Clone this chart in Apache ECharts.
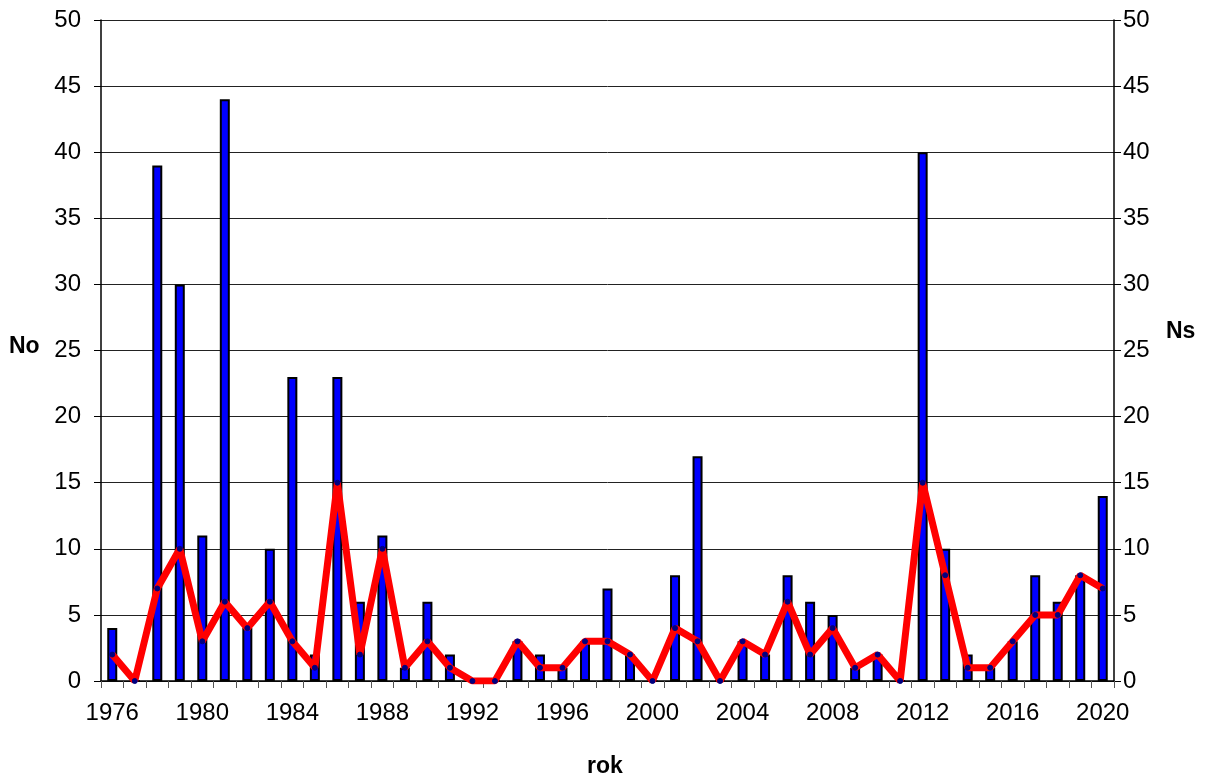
<!DOCTYPE html>
<html>
<head>
<meta charset="utf-8">
<script src="https://cdn.jsdelivr.net/npm/echarts@6/dist/echarts.min.js"></script>
<style>html,body{margin:0;padding:0;background:#fff}#c{width:1208px;height:779px}</style>
</head>
<body>
<div id="c"></div>
<script>
const years = [];
for (let y = 1976; y <= 2020; y++) years.push(String(y));
const No = [4,0,39,30,11,44,4,10,23,2,23,6,11,1,6,2,0,0,3,2,1,3,7,2,0,8,17,0,3,2,8,6,5,1,2,0,40,10,2,1,3,8,6,8,14];
const Ns = [2,0,7,10,3,6,4,6,3,1,15,2,10,1,3,1,0,0,3,1,1,3,3,2,0,4,3,0,3,2,6,2,4,1,2,0,15,8,1,1,3,5,5,8,7];
const yTicks = {min:0, max:50, interval:5};
const font = 'Liberation Sans, Arial, sans-serif';
const chart = echarts.init(document.getElementById('c'), null, {renderer:'canvas'});
const yAxisBase = (pos, margin) => ({
  type:'value', position:pos, min:yTicks.min, max:yTicks.max, interval:yTicks.interval,
  axisLine:{show:true, lineStyle:{color:'#000', width:1.5}},
  axisTick:{show:true, length:7, lineStyle:{color:'#000'}},
  axisLabel:{color:'#000', fontSize:24, fontFamily:font, margin:margin},
  splitLine:{show:pos==='left', lineStyle:{color:'#222', width:1}}
});
chart.setOption({
  animation:false,
  grid:{left:101, right:94, top:20, bottom:98},
  xAxis:{
    type:'category', data:years, boundaryGap:true,
    axisLine:{lineStyle:{color:'#000', width:1.5}},
    axisTick:{show:true, interval:0, length:7, lineStyle:{color:'#555'}},
    axisLabel:{interval:3, color:'#000', fontSize:24, fontFamily:font, margin:20}
  },
  yAxis:[yAxisBase('left', 20), yAxisBase('right', 9)],
  series:[
    {type:'bar', name:'No', data:No, yAxisIndex:0, barWidth:10,
     itemStyle:{color:'#0000ff', borderColor:'#000', borderWidth:2}},
    {type:'line', name:'Ns', data:Ns, yAxisIndex:1,
     lineStyle:{color:'#ff0000', width:7}, symbol:'circle', symbolSize:5,
     itemStyle:{color:'#000080', borderColor:'#000080'}, z:5}
  ],
  graphic:[
    {type:'text', left:9, top:335, style:{text:'No', font:'bold 23px '+font, fill:'#000'}},
    {type:'text', left:1166, top:320, style:{text:'Ns', font:'bold 23px '+font, fill:'#000'}},
    {type:'text', left:587, top:755, style:{text:'rok', font:'bold 23px '+font, fill:'#000'}}
  ]
});
</script>
</body>
</html>
